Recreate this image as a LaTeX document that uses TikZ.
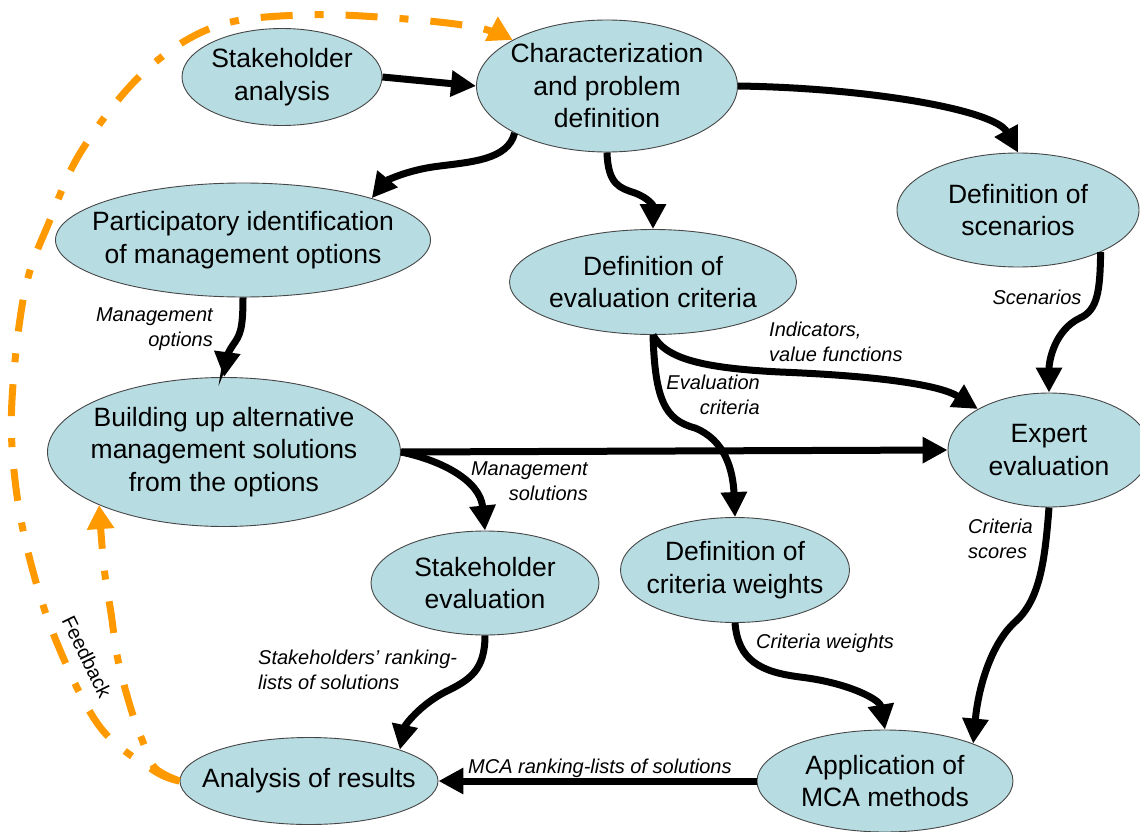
\documentclass[tikz,border=0pt]{standalone}
\usepackage{fontspec}
\setmainfont{Liberation Sans}
\usetikzlibrary{shapes.geometric,arrows.meta}
\definecolor{ellfill}{RGB}{183,221,227}
\definecolor{ellline}{RGB}{70,70,70}
\definecolor{fborange}{RGB}{255,153,0}
\begin{document}
\begin{tikzpicture}[x=1pt,y=-1pt,
  el/.style={ellipse,draw=ellline,line width=0.9pt,fill=ellfill,inner sep=0pt},
  eltext/.style={align=center,inner sep=0pt,font=\fontsize{26.5}{32.5}\selectfont},
  lbl/.style={inner sep=0pt,font=\fontsize{20}{25}\selectfont\itshape},
  conn/.style={line width=7pt,-{Triangle[length=25pt,width=25pt]}},
  fb/.style={draw=fborange,line width=7pt,dash pattern=on 32pt off 22pt on 9pt off 22pt,
    -{Triangle[length=24pt,width=26pt,fill=fborange]}}]
\useasboundingbox (0,0) rectangle (1140,832);

% ellipses
\node[el,minimum width=200pt,minimum height=97pt] (sa) at (282,77) {};
\node[eltext] (sat) at (sa) {Stakeholder\\analysis};
\node[el,minimum width=261pt,minimum height=132pt] (ch) at (607,86) {};
\node[eltext] (cht) at (ch) {Characterization\\and problem\\definition};
\node[el,minimum width=242pt,minimum height=114pt] (sc) at (1018,210) {};
\node[eltext] (sct) at (sc) {Definition of\\scenarios};
\node[el,minimum width=287pt,minimum height=105pt] (ev) at (653,282) {};
\node[eltext] (evt) at (ev) {Definition of\\evaluation criteria};
\node[el,minimum width=375pt,minimum height=114pt] (pa) at (243,240) {};
\node[eltext] (pat) at (pa) {Participatory identification\\of management options};
\node[el,minimum width=353pt,minimum height=149pt] (bu) at (224,452) {};
\node[eltext] (but) at (bu) {Building up alternative\\management solutions\\from the options};
\node[el,minimum width=202pt,minimum height=114pt] (ex) at (1049,450) {};
\node[eltext] (ext) at (ex) {Expert\\evaluation};
\node[el,minimum width=228pt,minimum height=104pt] (se) at (485,583) {};
\node[eltext] (set) at (se) {Stakeholder\\evaluation};
\node[el,minimum width=229pt,minimum height=105pt] (cw) at (735,570) {};
\node[eltext] (cwt) at (cw) {Definition of\\criteria weights};
\node[el,minimum width=258pt,minimum height=87pt] (ar) at (309,781) {};
\node[eltext] (art) at (ar) {Analysis of results};
\node[el,minimum width=256pt,minimum height=102pt] (ap) at (885,781) {};
\node[eltext] (apt) at (ap) {Application of\\MCA methods};

% black connectors
\draw[conn] (sa.east) -- (ch.west);
\draw[conn] (ch.207) .. controls (508,160) and (470,162) .. (440,166) .. controls (405,170) and (385,182) .. (pa.18);
\draw[conn] (ch.south) .. controls (608,185) and (620,188) .. (635,193) .. controls (648,198) and (653,205) .. (ev.north);
\draw[conn] (ch.east) .. controls (870,88) and (995,110) .. (sc.north);
\draw[conn] (sc.-27) .. controls (1100,290) and (1098,310) .. (1080,318) .. controls (1055,330) and (1049,360) .. (ex.north);
\draw[conn] (ev.south) .. controls (665,358) and (700,368) .. (780,372) .. controls (880,376) and (940,385) .. (ex.150);
\draw[conn] (ev.south) .. controls (655,400) and (665,420) .. (695,428) .. controls (725,440) and (733,470) .. (cw.north);
\draw[conn] (bu.east) -- (ex.west);
\draw[conn] (bu.east) .. controls (440,460) and (480,480) .. (se.north);
\draw[conn] (pa.south) .. controls (243,330) and (240,335) .. (233,345) .. controls (226,355) and (226,362) .. (bu.north);
\draw[conn] (se.south) .. controls (485,670) and (470,680) .. (445,692) .. controls (420,705) and (405,725) .. (ar.19);
\draw[conn] (cw.south) .. controls (738,660) and (760,672) .. (800,677) .. controls (850,683) and (880,700) .. (ap.north);
\draw[conn] (ex.south) .. controls (1045,560) and (1040,600) .. (1015,622) .. controls (990,645) and (978,690) .. (ap.23);
\draw[conn] (ap.west) -- (ar.east);

% feedback connectors
\draw[fb] plot[smooth,tension=0.6] coordinates {(ar.west) (153,770) (100,727) (57,643) (30,560) (15,480) (12,400) (25,290) (50,220) (82,150) (143,73) (214,27) (300,15) (393,18) (475,27) (ch.154)};
\draw[fb] plot[smooth,tension=0.6] coordinates {(ar.west) (155,768) (143,742) (131,709) (118,660) (111,613) (104,567) (bu.203)};

% labels
\node[lbl,anchor=east,align=right] (l1) at (213,329) {Management\\options};
\node[lbl,anchor=east,align=right] (l2) at (588,481) {Management\\solutions};
\node[lbl] (l3) at (1037,297) {Scenarios};
\node[lbl,anchor=west,align=left] (l4) at (769,342) {Indicators,\\value functions};
\node[lbl,anchor=east,align=right] (l5) at (760,395) {Evaluation\\criteria};
\node[lbl,anchor=west,align=left] (l6) at (968,539) {Criteria\\scores};
\node[lbl,anchor=west] (l7) at (756,643) {Criteria weights};
\node[lbl,anchor=west,align=left] (l8) at (258,670) {Stakeholders’ ranking-\\lists of solutions};
\node[lbl,anchor=west] (l9) at (468,768) {MCA ranking-lists of solutions};
\node[inner sep=0pt,font=\fontsize{20}{25}\selectfont,rotate=-64] (l10) at (87,657) {Feedback};
\end{tikzpicture}
\end{document}
